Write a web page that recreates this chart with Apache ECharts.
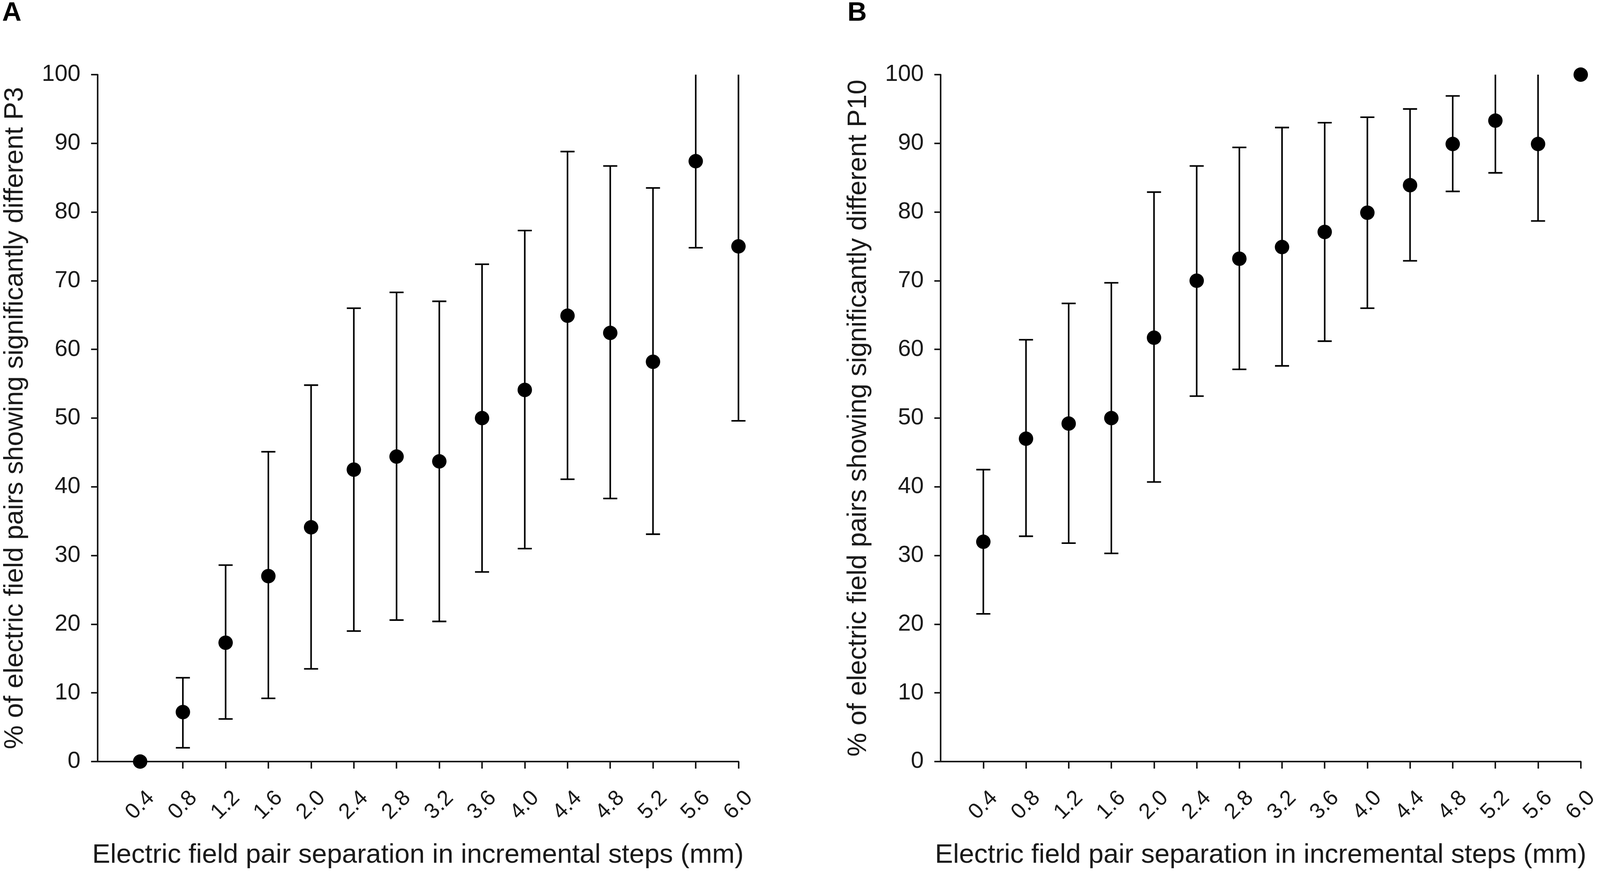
<!DOCTYPE html>
<html lang="en">

<head>
  <meta charset="UTF-8">
  <title>Electric field pair separation</title>
  <style>
    html, body { margin: 0; padding: 0; background: #fff; overflow: hidden; }
    #chart { width: 100vw; height: 100vh; }
  </style>
  <script src="https://cdn.jsdelivr.net/npm/echarts@6/dist/echarts.min.js"></script>
</head>

<body>
  <div id="chart"></div>
  <script>
    // separation steps (mm), shared by both panels
    var sep = [0.4, 0.8, 1.2, 1.6, 2.0, 2.4, 2.8, 3.2, 3.6, 4.0, 4.4, 4.8, 5.2, 5.6, 6.0];

    // panel A - P3
    var meanA = [0, 7.2, 17.3, 27.0, 34.1, 42.5, 44.4, 43.7, 50.0, 54.1, 64.9, 62.4, 58.2, 87.4, 75.0];
    var lowA = [null, 2.0, 6.2, 9.2, 13.5, 19.0, 20.6, 20.4, 27.6, 31.0, 41.1, 38.3, 33.1, 74.8, 49.6];
    var highA = [null, 12.2, 28.6, 45.1, 54.8, 66.0, 68.3, 67.0, 72.4, 77.3, 88.8, 86.7, 83.5, 100, 100];
    var offScaleA = [5.6, 6.0]; // upper whisker runs off the top, no cap

    // panel B - P10
    var meanB = [32.0, 47.0, 49.2, 50.0, 61.7, 70.0, 73.2, 74.9, 77.1, 79.9, 83.9, 89.9, 93.3, 89.9, 100];
    var lowB = [21.5, 32.8, 31.8, 30.3, 40.7, 53.2, 57.1, 57.6, 61.2, 66.0, 72.9, 83.0, 85.7, 78.7, null];
    var highB = [42.5, 61.4, 66.7, 69.7, 82.9, 86.7, 89.4, 92.3, 93.0, 93.8, 95.0, 96.9, 100, 100, null];
    var offScaleB = [5.2, 5.6];

    var yTitleA = '% of electric field pairs showing significantly different P3';
    var yTitleB = '% of electric field pairs showing significantly different P10';
    var xTitle = 'Electric field pair separation in incremental steps (mm)';

    var font = 'Liberation Sans, Arial, sans-serif';
    var ink = '#1a1a1a';

    var el = document.getElementById('chart');
    // sizes below are worked out for a 4550 x 2247 figure
    var sx = el.clientWidth / 4550;
    var sy = el.clientHeight / 2247;
    function px(v) { return v * sx; }
    function py(v) { return v * sy; }

    var myChart = echarts.init(el);

    function xAxisFor(idx) {
      return {
        type: 'value', gridIndex: idx, min: 0, max: 6, interval: 0.4,
        name: xTitle, nameLocation: 'middle', nameGap: py(205),
        nameTextStyle: { fontFamily: font, fontSize: px(77), color: ink },
        axisLine: { lineStyle: { color: ink, width: px(4.5) } },
        axisTick: { length: py(18), lineStyle: { color: ink, width: px(4.5) }, customValues: sep },
        axisLabel: {
          customValues: sep, rotate: 45, align: 'center', verticalAlign: 'middle', margin: py(112),
          fontFamily: font, fontSize: px(62), color: ink,
          formatter: function (v) { return v === 0 ? '' : v.toFixed(1); }
        },
        splitLine: { show: false }
      };
    }

    function yAxisFor(idx, title) {
      return {
        type: 'value', gridIndex: idx, min: 0, max: 100, interval: 10,
        name: title, nameLocation: 'middle', nameGap: px(196),
        nameTextStyle: { fontFamily: font, fontSize: px(76), color: ink },
        axisLine: { show: true, lineStyle: { color: ink, width: px(4.5) } },
        axisTick: { show: true, length: px(18), lineStyle: { color: ink, width: px(4.5) } },
        axisLabel: { margin: px(48), fontFamily: font, fontSize: px(66), color: ink },
        splitLine: { show: false }
      };
    }

    // error bars: stem + caps, drawn through the axis scale
    function errorBars(offScale) {
      return function (params, api) {
        var x = api.value(0), lo = api.value(1), hi = api.value(2);
        if (isNaN(lo) || isNaN(hi)) return null;
        var p0 = api.coord([x, lo]);
        var p1 = api.coord([x, hi]);
        var half = px(20);
        var st = { stroke: '#000', lineWidth: px(4.5) };
        var kids = [
          { type: 'line', shape: { x1: p0[0], y1: p0[1], x2: p1[0], y2: p1[1] }, style: st },
          { type: 'line', shape: { x1: p0[0] - half, y1: p0[1], x2: p0[0] + half, y2: p0[1] }, style: st }
        ];
        if (offScale.indexOf(x) < 0) {
          kids.push({ type: 'line', shape: { x1: p1[0] - half, y1: p1[1], x2: p1[0] + half, y2: p1[1] }, style: st });
        }
        return { type: 'group', children: kids };
      };
    }

    function zip(a, b, c) {
      return sep.map(function (x, i) { return c ? [x, a[i], b[i]] : [x, a[i]]; });
    }

    var panelLabel = { fontFamily: font, fontSize: px(76), fontWeight: 'bold', color: '#000' };

    option = {
      backgroundColor: '#fff',
      animation: false,
      title: [
        { text: 'A', left: px(6), top: 0, padding: 0, textStyle: panelLabel },
        { text: 'B', left: px(2410), top: 0, padding: 0, textStyle: panelLabel }
      ],
      grid: [
        { left: px(277), right: px(2450), top: py(191), bottom: py(298) },
        { left: px(2675), right: px(54), top: py(191), bottom: py(298) }
      ],
      xAxis: [xAxisFor(0), xAxisFor(1)],
      yAxis: [yAxisFor(0, yTitleA), yAxisFor(1, yTitleB)],
      series: [
        { type: 'custom', xAxisIndex: 0, yAxisIndex: 0, renderItem: errorBars(offScaleA), data: zip(lowA, highA, true), clip: false, z: 2 },
        { type: 'scatter', xAxisIndex: 0, yAxisIndex: 0, symbolSize: px(41), itemStyle: { color: '#000', opacity: 1 }, data: zip(meanA), clip: false, z: 3 },
        { type: 'custom', xAxisIndex: 1, yAxisIndex: 1, renderItem: errorBars(offScaleB), data: zip(lowB, highB, true), clip: false, z: 2 },
        { type: 'scatter', xAxisIndex: 1, yAxisIndex: 1, symbolSize: px(41), itemStyle: { color: '#000', opacity: 1 }, data: zip(meanB), clip: false, z: 3 }
      ]
    };

    myChart.setOption(option);
  </script>
</body>

</html>
